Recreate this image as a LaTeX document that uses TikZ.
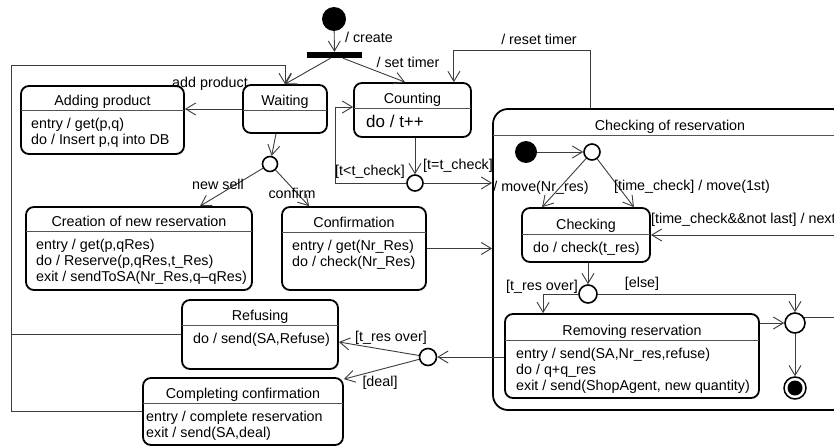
\documentclass[tikz,border=0pt]{standalone}
\usepackage{fontspec}
\setmainfont{Liberation Sans}
\usetikzlibrary{arrows.meta,calc}

\definecolor{linegray}{HTML}{3C3C3C}
\definecolor{sepgray}{HTML}{555555}

\tikzset{
  x=1pt, y=-1pt,
  every node/.style={font=\fontsize{14.3pt}{16pt}\selectfont},
  statebox/.style={draw=black, line width=1.8pt, rounded corners=8pt, fill=white, inner sep=0pt},
  compositebox/.style={draw=black, line width=1.8pt, rounded corners=15pt, fill=white},
  sepline/.style={draw=sepgray, line width=0.9pt},
  titletext/.style={anchor=base, inner sep=0pt},
  bodytext/.style={anchor=north west, align=left, inner sep=0pt},
  lbl/.style={inner sep=0pt},
  initdot/.style={circle, fill=black, inner sep=0pt},
  pseudo/.style={circle, draw=black, line width=1.6pt, fill=white, inner sep=0pt},
  forkbar/.style={fill=black, inner sep=0pt, minimum width=55pt, minimum height=6pt},
  conn/.style={draw=linegray, line width=0.9pt, -{Straight Barb[length=10pt,width=12pt]}},
  plainline/.style={draw=linegray, line width=0.9pt},
}

% name, left, top, right, bottom, separator y, body inset, title, body
% the body's first baseline sits 18pt below the separator (strut height 11.2pt)
\newcommand{\umlstate}[9]{%
  \node[statebox, minimum width={(#4-#2)*1pt}, minimum height={(#5-#3)*1pt}]
    (#1) at ({(#2+#4)/2},{(#3+#5)/2}) {};
  \draw[sepline] (#2,#6) -- (#4,#6);
  \node[titletext] (#1-title) at ({(#2+#4)/2},{#6-5}) {#8};
  \node[bodytext] (#1-body) at ({#2+#7},{#6+18-11.2}) {\strut #9};
}

\begin{document}
\begin{tikzpicture}
\useasboundingbox (0,0) rectangle (834,447);
\clip (0,0) rectangle (834,447);
\fill[white] (0,0) rectangle (834,447);

% composite state
\node[compositebox, minimum width=354pt, minimum height=301pt, inner sep=0pt]
  (chk) at (670,259.5) {};
\draw[sepline] (493,135) -- (847,135);
\node[titletext] (chk-title) at (670,130) {Checking of reservation};

% simple states
\umlstate{add}{21}{86}{184}{154}{110}{10}{Adding product}{entry / get(p,q)\\do / Insert p,q into DB}
\umlstate{wait}{243}{85}{327}{133}{110}{10}{Waiting}{}
\umlstate{count}{354}{83}{471}{137}{108}{12}{Counting}{\fontsize{17pt}{20pt}\selectfont do / t++}
\umlstate{create}{26}{207}{252}{290}{231}{10}{Creation of new reservation}{entry / get(p,qRes)\\do / Reserve(p,qRes,t\_Res)\\exit / sendToSA(Nr\_Res,q\textendash qRes)}
\umlstate{confirm}{282}{207}{426}{290}{232}{10}{Confirmation}{entry / get(Nr\_Res)\\do / check(Nr\_Res)}
\umlstate{checking}{522}{208}{650}{262}{234}{11}{Checking}{do / check(t\_res)}
\umlstate{remove}{505}{314}{759}{398}{340}{11}{Removing reservation}{entry / send(SA,Nr\_res,refuse)\\do / q+q\_res\\exit / send(ShopAgent, new quantity)}
\umlstate{refuse}{182}{300}{338}{369}{325}{11}{Refusing}{do / send(SA,Refuse)}
\umlstate{complete}{143}{378}{343}{445}{403}{3}{Completing confirmation}{entry / complete reservation\\exit / send(SA,deal)}

% pseudostates
\node[initdot, minimum size=24pt] (init) at (334,19) {};
\node[forkbar] (bar) at (334.5,55) {};
\node[pseudo, minimum size=15pt] (c1) at (270,164) {};
\node[pseudo, minimum size=16pt] (chc) at (415,183) {};
\node[initdot, minimum size=22pt] (iinit) at (526,152) {};
\node[pseudo, minimum size=16pt] (cr) at (592,152) {};
\node[pseudo, minimum size=18pt] (cw) at (588,294) {};
\node[pseudo, minimum size=20pt] (merge) at (795,323) {};
\node[pseudo, minimum size=17pt] (cd) at (428,357) {};
\node[pseudo, line width=1.5pt, minimum size=22pt] (final) at (795,388) {};
\fill[black] (final.center) circle[radius=7.5pt];

% free ends and bends
\coordinate (lc) at (11,65);
\coordinate (lt) at (285,65);
\coordinate (loopc) at (335,183);
\coordinate (rt) at (590,50);
\coordinate (rin) at (850,235);
\coordinate (mout) at (850,318);

% transitions
\draw[conn] (init) -- (bar);
\draw[conn] ([xshift=-4pt]bar.south) -- (wait.north);
\draw[conn] ([xshift=8.5pt]bar.south) -- ([xshift=-7.5pt]count.north);
\draw[conn] (complete.west) -| (lc) -- (lt) -- (wait.north);
\draw[plainline] (refuse.west) -- (refuse.west -| lc);
\draw[conn] (wait.west) -- (wait.west -| add.east);
\draw[conn] ([xshift=-9pt]wait.south) -- (c1);
\draw[conn] (c1) -- ([xshift=61pt]create.north);
\draw[conn] (c1) -- ([xshift=28pt]confirm.north west);
\draw[conn] (count.south -| chc.north) -- (chc);
\draw[conn] (chc.west) -- (loopc) |- ([yshift=3pt]count.west);
\draw[conn] (chc.east) -- (chc.east -| chk.west);
\draw[conn] (confirm.east) -- (confirm.east -| chk.west);
\draw[conn] (rt |- chk.north) -- (rt) -| ([xshift=-18pt]count.north east);
\draw[conn] (iinit) -- (cr);
\draw[conn] (cr) -- ([xshift=21pt]checking.north west);
\draw[conn] (cr) -- ([xshift=-17pt]checking.north east);
\draw[conn] (rin) -- (checking.east);
\draw[conn] (checking.south -| cw.north) -- (cw);
\draw[conn] (cw.west) -| ([xshift=39pt]remove.north west);
\draw[conn] (cw.east) -| (merge.north);
\draw[conn] (remove.east |- merge.west) -- (merge.west);
\draw[plainline] (merge.30) -- (merge.30 -| mout);
\draw[conn] (merge) -- (final);
\draw[conn] (remove.west |- cd.east) -- (cd);
\draw[conn] (cd) -- ([yshift=-7.5pt]refuse.east);
\draw[conn] (cd) -- ([yshift=-2pt]complete.north east);

% transition labels
\node[lbl] (l-create) at (369,37) {/ create};
\node[lbl] (l-timer) at (408,62) {/ set timer};
\node[lbl] (l-add) at (210,84) {add product};
\node[lbl] (l-sell) at (218,184) {new sell};
\node[lbl] (l-confirm) at (292,193) {confirm};
\node[lbl] (l-tlt) at (370,172) {[t<t\_check]};
\node[lbl] (l-teq) at (458,166) {[t=t\_check]};
\node[lbl] (l-reset) at (539,39) {/ reset timer};
\node[lbl] (l-move) at (541,188) {/ move(Nr\_res)};
\node[lbl] (l-first) at (692,187) {[time\_check] / move(1st)};
\node[lbl, anchor=west] (l-next) at (651,220) {[time\_check\&\&not last] / next};
\node[lbl] (l-over1) at (542,287) {[t\_res over]};
\node[lbl] (l-else) at (642,284) {[else]};
\node[lbl] (l-over2) at (391,338) {[t\_res over]};
\node[lbl] (l-deal) at (380,383) {[deal]};
\end{tikzpicture}
\end{document}
